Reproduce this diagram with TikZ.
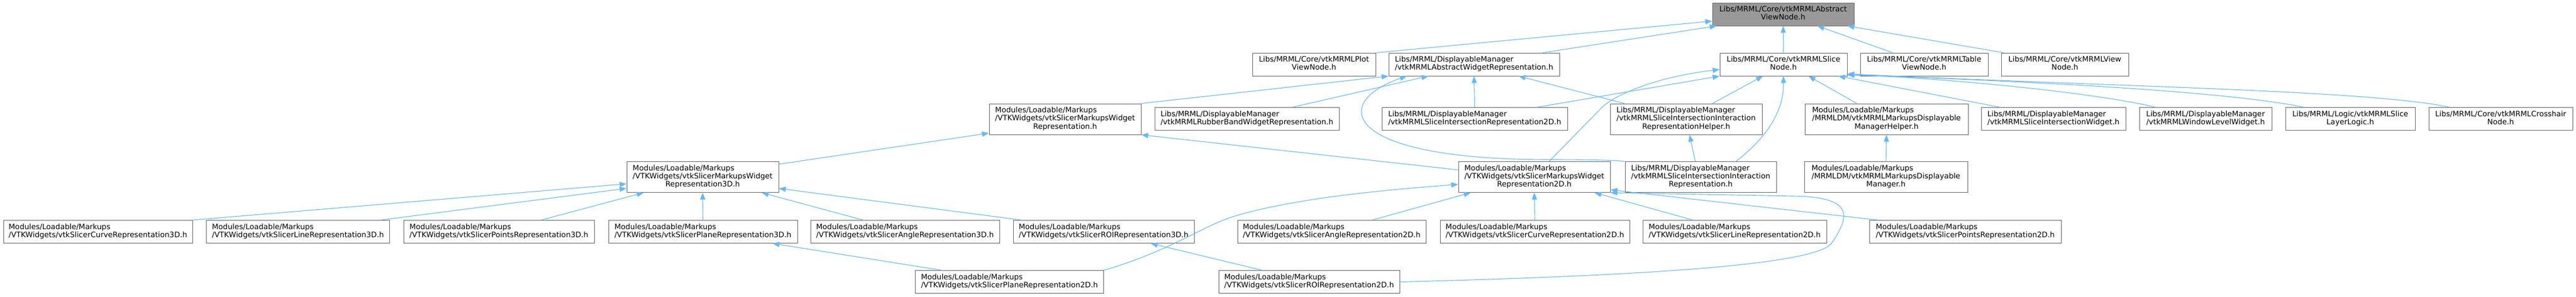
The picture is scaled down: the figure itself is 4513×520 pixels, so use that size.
\documentclass[tikz,border=0pt]{standalone}
\usepackage{fontspec}
\setmainfont{DejaVu Sans}
\usetikzlibrary{arrows.meta}
\definecolor{edgeblue}{HTML}{63B8FF}
\definecolor{boxgray}{HTML}{666666}
\definecolor{rootfill}{HTML}{999999}
\newcommand{\lns}[2]{\begin{tabular}{@{}l@{}}#1\\\multicolumn{1}{@{}c@{}}{#2}\end{tabular}}
\begin{document}
\begin{tikzpicture}[x=1pt,y=-1pt,
  box/.style={draw=boxgray, fill=white, line width=1pt, inner sep=0pt, minimum height=40pt,
    font=\fontsize{13.1}{14}\selectfont},
  tall/.style={minimum height=54pt},
  edge/.style={draw=edgeblue, line width=1.1pt, -{Triangle[length=12pt,width=9pt]}}]
\useasboundingbox[fill=white] (0,0) rectangle (4513,520);
% level 0
\node[box, fill=rootfill, minimum width=248pt] (root) at (3124,25) {\lns{Libs/MRML/Core/vtkMRMLAbstract}{ViewNode.h}};
% level 1
\node[box, minimum width=216pt] (plot) at (2302,113) {\lns{Libs/MRML/Core/vtkMRMLPlot}{ViewNode.h}};
\node[box, minimum width=299pt] (awr) at (2582.5,113) {\lns{Libs/MRML/DisplayableManager}{/vtkMRMLAbstractWidgetRepresentation.h}};
\node[box, minimum width=223pt] (slice) at (3124.5,113) {\lns{Libs/MRML/Core/vtkMRMLSlice}{Node.h}};
\node[box, minimum width=224pt] (table) at (3371,113) {\lns{Libs/MRML/Core/vtkMRMLTable}{ViewNode.h}};
\node[box, minimum width=223pt] (view) at (3617.5,113) {\lns{Libs/MRML/Core/vtkMRMLView}{Node.h}};
% level 2
\node[box, tall, minimum width=266pt] (mwr) at (1866,209) {\lns{Modules/Loadable/Markups\\/VTKWidgets/vtkSlicerMarkupsWidget}{Representation.h}};
\node[box, minimum width=323pt] (rubber) at (2184.5,208.5) {\lns{Libs/MRML/DisplayableManager}{/vtkMRMLRubberBandWidgetRepresentation.h}};
\node[box, minimum width=325pt] (sir2d) at (2583.5,208.5) {\lns{Libs/MRML/DisplayableManager}{/vtkMRMLSliceIntersectionRepresentation2D.h}};
\node[box, tall, minimum width=266pt] (helper) at (2954,209) {\lns{Libs/MRML/DisplayableManager\\/vtkMRMLSliceIntersectionInteraction}{RepresentationHelper.h}};
\node[box, tall, minimum width=286pt] (mdmh) at (3305,209) {\lns{Modules/Loadable/Markups\\/MRMLDM/vtkMRMLMarkupsDisplayable}{ManagerHelper.h}};
\node[box, minimum width=253pt] (siw) at (3597.5,208.5) {\lns{Libs/MRML/DisplayableManager}{/vtkMRMLSliceIntersectionWidget.h}};
\node[box, minimum width=232pt] (wlw) at (3864,208.5) {\lns{Libs/MRML/DisplayableManager}{/vtkMRMLWindowLevelWidget.h}};
\node[box, minimum width=227pt] (sll) at (4117.5,208.5) {\lns{Libs/MRML/Logic/vtkMRMLSlice}{LayerLogic.h}};
\node[box, minimum width=252pt] (cross) at (4381,208.5) {\lns{Libs/MRML/Core/vtkMRMLCrosshair}{Node.h}};
% level 3
\node[box, tall, minimum width=266pt] (m3d) at (1231,310.5) {\lns{Modules/Loadable/Markups\\/VTKWidgets/vtkSlicerMarkupsWidget}{Representation3D.h}};
\node[box, tall, minimum width=266pt] (m2d) at (2688,310.5) {\lns{Modules/Loadable/Markups\\/VTKWidgets/vtkSlicerMarkupsWidget}{Representation2D.h}};
\node[box, tall, minimum width=265pt] (irep) at (2979.5,310.5) {\lns{Libs/MRML/DisplayableManager\\/vtkMRMLSliceIntersectionInteraction}{Representation.h}};
\node[box, tall, minimum width=286pt] (mdm) at (3304,310.5) {\lns{Modules/Loadable/Markups\\/MRMLDM/vtkMRMLMarkupsDisplayable}{Manager.h}};
% level 4
\node[box, minimum width=331pt] (curve3d) at (171.5,406.5) {\lns{Modules/Loadable/Markups}{/VTKWidgets/vtkSlicerCurveRepresentation3D.h}};
\node[box, minimum width=321pt] (line3d) at (522,406.5) {\lns{Modules/Loadable/Markups}{/VTKWidgets/vtkSlicerLineRepresentation3D.h}};
\node[box, minimum width=334pt] (points3d) at (874,406.5) {\lns{Modules/Loadable/Markups}{/VTKWidgets/vtkSlicerPointsRepresentation3D.h}};
\node[box, minimum width=331pt] (plane3d) at (1231.5,406.5) {\lns{Modules/Loadable/Markups}{/VTKWidgets/vtkSlicerPlaneRepresentation3D.h}};
\node[box, minimum width=331pt] (angle3d) at (1585.5,406.5) {\lns{Modules/Loadable/Markups}{/VTKWidgets/vtkSlicerAngleRepresentation3D.h}};
\node[box, minimum width=317pt] (roi3d) at (1933.5,406.5) {\lns{Modules/Loadable/Markups}{/VTKWidgets/vtkSlicerROIRepresentation3D.h}};
\node[box, minimum width=330pt] (angle2d) at (2333,406.5) {\lns{Modules/Loadable/Markups}{/VTKWidgets/vtkSlicerAngleRepresentation2D.h}};
\node[box, minimum width=332pt] (curve2d) at (2689,406.5) {\lns{Modules/Loadable/Markups}{/VTKWidgets/vtkSlicerCurveRepresentation2D.h}};
\node[box, minimum width=322pt] (line2d) at (3039,406.5) {\lns{Modules/Loadable/Markups}{/VTKWidgets/vtkSlicerLineRepresentation2D.h}};
\node[box, minimum width=336pt] (points2d) at (3443,406.5) {\lns{Modules/Loadable/Markups}{/VTKWidgets/vtkSlicerPointsRepresentation2D.h}};
% level 5
\node[box, minimum width=330pt] (plane2d) at (1768.5,494.5) {\lns{Modules/Loadable/Markups}{/VTKWidgets/vtkSlicerPlaneRepresentation2D.h}};
\node[box, minimum width=317pt] (roi2d) at (2293.5,494.5) {\lns{Modules/Loadable/Markups}{/VTKWidgets/vtkSlicerROIRepresentation2D.h}};
% edges to root
\draw[edge] (plot.north east) -- ([yshift=-12pt]root.west);
\draw[edge] ([xshift=120pt]awr.north) -- ([xshift=8pt]root.south west);
\draw[edge] (slice.north) -- (root.south);
\draw[edge] ([xshift=-55pt]table.north) -- ([xshift=60pt]root.south);
\draw[edge] ([xshift=-107pt]view.north) -- ([xshift=-12pt]root.south east);
% edges to abstract widget representation
\draw[edge] (mwr.north east) -- (awr.south west);
\draw[edge] ([xshift=80pt]rubber.north) -- ([xshift=-80pt]awr.south);
\draw[edge] (irep.north west) .. controls (2830,281) and (2780,280) .. (2713,280) .. controls (2350,280) and (2330,180) .. ([xshift=-118pt]awr.south);
\draw[edge] (sir2d.north) -- (awr.south);
\draw[edge] ([xshift=-108pt]helper.north) -- ([xshift=78pt]awr.south);
% edges to slice node
\draw[edge] ([xshift=26pt]m2d.north) -- (2805,190) .. controls (2825,168) and (2900,135) .. ([yshift=-9pt]slice.west);
\draw[edge] ([xshift=110pt]sir2d.north) -- (slice.south west);
\draw[edge] ([xshift=46pt]helper.north) -- ([xshift=-36pt]slice.south);
\draw[edge] ([xshift=62pt]irep.north) .. controls (3090,245) and (3125,200) .. (slice.south);
\draw[edge] ([xshift=-52pt]mdmh.north) -- ([xshift=44pt]slice.south);
\draw[edge] ([xshift=-94pt]siw.north) -- ([xshift=-16pt]slice.south east);
\draw[edge] ([xshift=-88pt]wlw.north) .. controls (3680,165) and (3450,140) .. ([yshift=3pt]slice.south east);
\draw[edge] ([xshift=-82pt]sll.north) .. controls (3900,160) and (3550,142) .. ([yshift=2pt]slice.south east);
\draw[edge] ([xshift=-90pt]cross.north) .. controls (4150,158) and (3700,152) .. ([yshift=4pt]slice.south east);
% other level-2 targets
\draw[edge] ([xshift=-9.5pt]irep.north) -- ([xshift=6pt]helper.south);
\draw[edge] (mdm.north) -- (mdmh.south);
\draw[edge] ([yshift=-5pt]m3d.north east) -- ([yshift=3pt]mwr.south west);
\draw[edge] ([yshift=-15pt]m2d.north west) -- (mwr.south east);
% edges to markups 3D
\draw[edge] (curve3d.north east) -- ([yshift=-12pt]m3d.west);
\draw[edge] ([xshift=145pt]line3d.north) -- ([yshift=-20pt]m3d.west);
\draw[edge] ([xshift=74pt]points3d.north) -- ([xshift=30pt]m3d.south west);
\draw[edge] (plane3d.north) -- (m3d.south);
\draw[edge] ([xshift=-73.5pt]angle3d.north) -- ([xshift=-30pt]m3d.south east);
\draw[edge] ([xshift=-144.5pt]roi3d.north) -- ([yshift=-20pt]m3d.east);
% edges to markups 2D
\draw[edge] ([xshift=71pt]angle2d.north) -- ([xshift=22pt]m2d.south west);
\draw[edge] (curve2d.north) -- (m2d.south);
\draw[edge] ([xshift=-73pt]line2d.north) -- ([xshift=-28pt]m2d.south east);
\draw[edge] ([xshift=-153pt]points2d.north) -- ([yshift=5pt]m2d.south east);
\draw[edge] (roi2d.east) .. controls (2950,482) and (3190,460) .. (3210,425) .. controls (3240,380) and (3250,345) .. (3140,344) -- (m2d.south east);
\draw[edge] (plane2d.north east) .. controls (2050,440) and (2100,400) .. (2160,380) .. controls (2260,350) and (2400,335) .. ([yshift=-13pt]m2d.west);
% level 5 to level 4
\draw[edge] ([xshift=-119.5pt]plane2d.north) -- ([xshift=122pt]plane3d.south);
\draw[edge] ([xshift=-82.5pt]roi2d.north) -- ([xshift=82.5pt]roi3d.south);
\end{tikzpicture}
\end{document}
